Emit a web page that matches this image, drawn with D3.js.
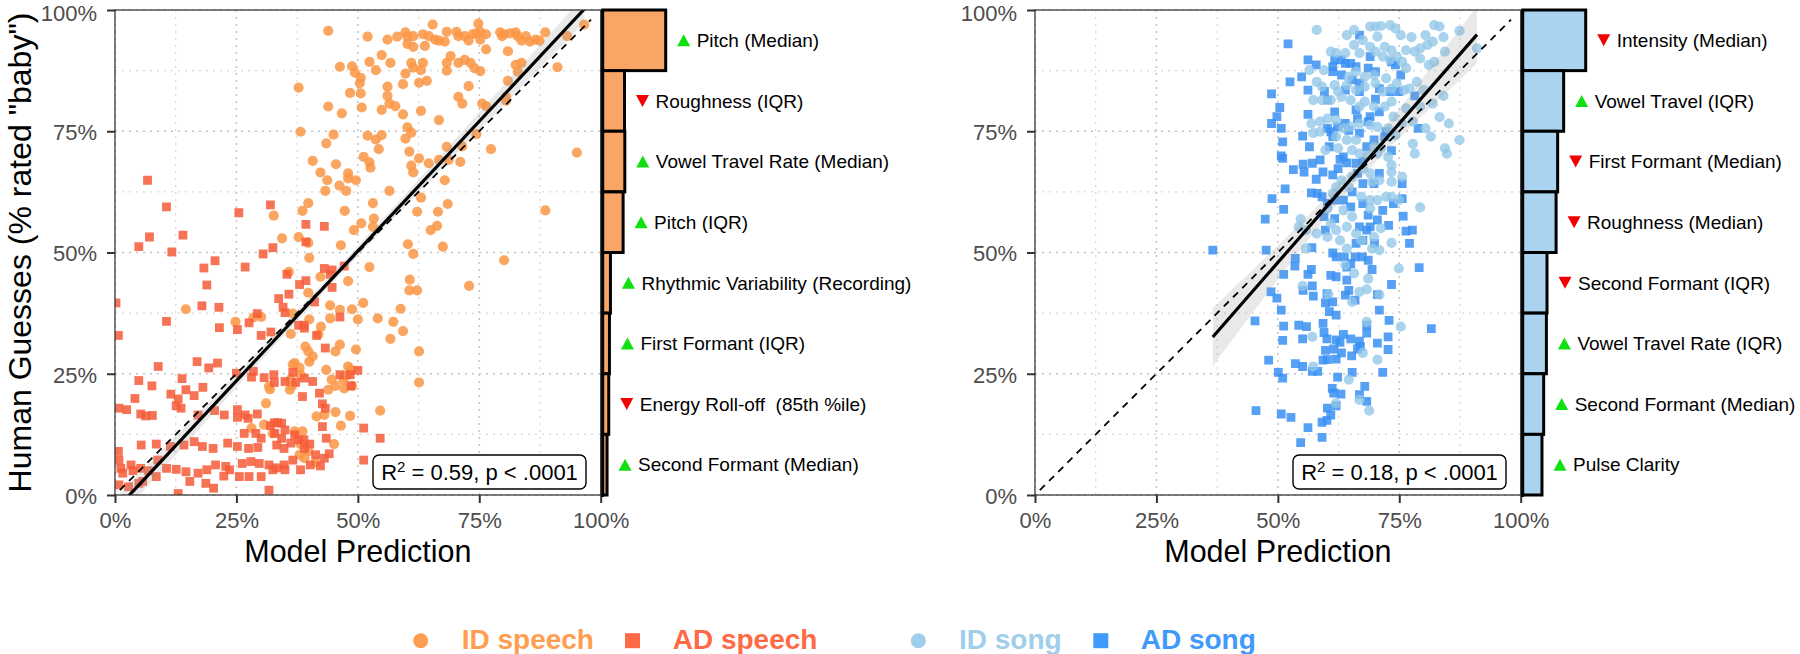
<!DOCTYPE html>
<html><head><meta charset="utf-8">
<script src="https://cdn.jsdelivr.net/npm/d3@7"></script>
<style>
body{margin:0;background:#fff}
text{font-family:"Liberation Sans",Arial,Helvetica,sans-serif}
</style>
</head><body>
<svg id="chart" width="1800" height="654"></svg>
<script>
// ---------------- DATA ----------------
const tickValues = [0, 25, 50, 75, 100];
const tickLabels = ["0%", "25%", "50%", "75%", "100%"];
const gridValues = [0, 12.5, 25, 37.5, 50, 62.5, 75, 87.5, 100];

// Left panel: speech  [model prediction %, human guesses %]
const idSpeech = [[43.9,95.7],[52.0,94.5],[56.1,93.9],[58.1,94.5],[59.8,95.4],[60.2,94.5],[61.4,94.6],[63.4,95.0],[64.6,94.6],[65.4,97.0],[65.9,93.9],[66.7,93.7],[67.9,93.5],[68.3,95.5],[70.3,95.5],[70.7,94.6],[72.0,94.6],[72.8,93.7],[73.6,95.0],[74.4,95.2],[74.8,97.2],[75.2,93.9],[76.4,95.0],[79.3,95.4],[80.1,95.0],[81.3,95.2],[82.5,95.4],[82.9,94.6],[83.7,93.7],[84.6,94.6],[85.4,93.5],[86.6,93.9],[87.4,93.7],[88.6,95.4],[93.1,94.6],[96.6,97.0],[61.4,92.4],[60.2,93.0],[63.8,92.6],[76.4,91.9],[80.9,91.5],[75.2,95.5],[79.7,94.6],
[54.9,90.7],[69.1,90.5],[52.4,89.3],[56.7,89.1],[61.0,89.1],[63.4,89.1],[68.3,89.1],[70.7,89.1],[72.0,89.7],[73.2,89.1],[74.0,88.0],[75.2,87.4],[61.4,88.1],[63.0,87.6],[46.3,88.3],[48.8,88.4],[49.4,87.1],[50.6,86.0],[53.7,87.6],[59.8,86.9],[68.3,87.5],[82.5,88.7],[83.7,89.1],[82.9,87.3],[91.1,88.2],[80.9,85.4],[62.6,85.0],[64.2,85.4],[59.3,84.7],[72.8,84.3],[56.1,84.2],[50.4,84.9],[37.8,84.0],[48.4,82.9],[50.6,82.8],[56.1,82.3],[56.5,80.7],[57.7,80.2],[54.9,79.4],[70.7,82.1],[71.5,80.7],[75.6,80.7],[76.4,80.2],[80.5,82.1],[80.5,81.3],[43.9,80.1],[46.7,78.7],[50.8,79.9],[59.3,78.5],[63.0,79.2],[66.7,77.3],
[38.2,74.9],[43.5,72.5],[45.0,74.3],[52.0,74.1],[53.7,73.3],[54.9,74.2],[54.3,71.3],[60.2,75.8],[61.0,74.7],[59.8,73.5],[74.4,74.4],[77.4,71.3],[95.1,70.6],[71.5,71.9],[68.3,71.8],[51.2,69.7],[52.4,68.6],[52.6,67.5],[60.6,70.8],[62.6,69.4],[64.6,68.4],[61.0,67.9],[61.4,66.5],[66.7,69.1],[68.7,69.1],[71.1,68.7],[40.7,68.9],[45.5,68.2],[42.3,66.5],[43.7,64.9],[43.3,62.7],[46.2,63.8],[48.0,66.3],[48.0,65.3],[49.6,64.9],[47.6,62.7],[56.5,62.7],[67.9,64.9],[63.0,61.3],[39.8,60.2],[38.6,58.6],[32.7,57.6],[53.1,60.2],[53.3,57.0],[53.1,55.3],[47.3,58.6],[50.7,56.0],[49.2,54.6],[62.2,58.4],[66.5,58.4],[68.5,60.0],[65.0,54.6],[66.3,55.5],[88.6,58.7],[80.1,48.4],[34.4,52.9],[37.8,53.2],[39.8,52.0],[46.5,51.5],[60.3,51.7],[61.4,49.7],[67.5,51.2],[48.0,44.1],[52.4,47.0],[60.7,44.4],[60.6,42.2],[62.2,42.2],[72.9,43.1],[42.3,45.0],[40.0,48.9],[39.8,41.7],[44.3,39.1],[46.3,38.2],[48.8,38.3],[51.1,39.6],[58.8,38.4],[14.6,38.3],[24.8,35.7],[28.5,36.6],[30.1,36.7],[35.8,46.0],[36.6,37.4],[40.0,36.2],[42.4,34.7],[50.0,36.2],[54.1,36.4],[57.3,35.7],[44.3,36.4],
[59.3,33.8],[56.7,32.2],[36.2,33.2],[46.3,31.0],[49.6,30.0],[45.4,29.6],[39.2,30.6],[39.8,29.6],[40.7,28.6],[40.0,27.5],[37.0,27.2],[36.6,26.9],[38.0,26.2],[41.9,33.1],[43.5,25.8],[44.6,23.8],[47.0,23.8],[45.4,22.5],[43.9,21.7],[47.6,24.6],[48.0,26.5],[48.6,25.8],[47.2,22.0],[48.8,22.5],[54.6,17.4],[62.6,29.6],[62.6,23.2],[41.5,16.2],[45.4,17.1],[43.1,16.5],[46.5,14.3],[48.4,16.3],[45.1,10.5],[38.2,10.5],[30.7,14.5],[32.5,12.7],[28.1,13.8],[36.0,21.7],[36.4,22.5],[36.2,23.9],[38.2,24.8],[31.7,22.4],[31.9,21.8],[37.0,13.1],[38.6,13.1],[41.3,6.7],[39.0,7.6],[38.0,8.3],[39.8,9.0],[31.1,18.9]];

const adSpeech = [[6.7,64.9],[10.6,59.4],[25.5,58.2],[32.0,59.8],[39.3,55.8],[43.1,55.4],[7.1,53.2],[14.0,53.6],[4.9,51.2],[11.7,50.1],[20.6,48.3],[18.3,46.8],[18.9,43.3],[26.8,47.0],[30.5,49.7],[32.5,51.0],[35.4,45.5],[39.3,52.2],[38.0,43.4],[39.3,44.2],[43.1,46.7],[44.7,46.4],[44.7,42.8],[47.2,47.2],[17.9,39.0],[21.4,38.7],[10.6,35.8],[0.2,39.6],[33.7,40.5],[35.8,41.4],[34.6,38.7],[35.0,37.6],[29.3,37.4],[27.6,35.5],[41.1,39.8],[38.9,35.0],[37.8,35.0],[46.3,36.7],[44.3,45.5],[21.5,34.5],
[25.2,34.1],[30.1,32.9],[32.1,33.6],[39.0,34.4],[41.5,32.9],[43.3,30.3],[16.9,27.5],[21.1,27.2],[19.3,26.2],[18.1,22.2],[13.8,24.0],[14.6,21.7],[11.5,20.8],[25.0,25.1],[28.1,24.3],[28.5,25.5],[32.7,24.8],[30.7,24.2],[32.8,23.2],[35.0,23.4],[36.6,25.3],[37.2,23.2],[39.0,24.1],[40.7,23.4],[38.6,20.3],[42.1,21.0],[42.7,18.8],[43.3,17.9],[46.3,24.8],[48.4,24.8],[50.0,25.7],[48.6,22.5],[8.9,26.5],[7.6,22.5],[4.9,23.6],[4.1,19.9],[2.4,17.6],[0.8,17.9],[5.3,16.7],[6.3,16.3],[7.7,16.4],[13.0,19.8],[12.6,18.4],[13.6,17.9],[16.3,20.5],[17.1,16.5],[20.5,17.4],[22.5,16.5],[25.2,17.6],[26.8,16.5],[27.4,15.8],[29.3,16.7],[32.8,14.9],[33.5,14.9],[34.3,14.8],[25.2,16.0],[26.6,12.7],[29.0,12.7],[30.1,11.7],[32.0,14.3],[32.9,12.7],[34.3,11.7],[35.0,13.4],[37.0,12.4],[37.8,11.4],[39.0,9.6],[40.1,10.5],[41.3,8.3],[42.7,14.1],[43.5,11.7],[51.2,13.8],[54.6,11.7],[43.1,7.6],[40.2,6.2],[42.3,6.0],[44.1,8.5],[5.4,10.3],[8.5,10.5],[11.4,10.0],[14.2,10.3],[16.3,11.0],[18.0,10.0],[20.2,9.6],[23.2,10.7],[25.2,10.0],[27.5,9.6],[29.4,9.8],[33.3,10.3],[34.8,9.6],[36.2,10.7],[38.9,11.4],[36.6,7.2],[34.8,6.2],[33.3,5.6],[31.7,6.2],[29.7,6.5],[28.0,6.9],[26.2,6.5],[23.6,5.2],[22.8,5.9],[20.7,6.2],[18.9,5.2],[17.1,4.5],[14.6,4.8],[12.6,5.3],[10.6,5.5],[8.8,7.2],[8.5,3.8],[6.9,5.0],[5.3,5.5],[3.7,5.0],[1.6,4.5],[0.8,7.2],[1.2,5.5],[3.3,6.2],[4.9,2.4],[5.7,2.8],[2.8,1.7],[0.8,2.1],[13.0,0.3],[15.4,2.8],[18.7,2.4],[20.3,1.4],[22.4,3.9],[25.6,3.8],[27.6,3.8],[30.1,3.8],[32.5,5.2],[35.0,5.2],[38.2,5.2],[31.7,1.0],[51.2,7.2],[0.7,32.9],[0.7,9.0]];

// Right panel: song
const idSong = [[58.0,95.9],[64.2,94.8],[65.7,95.9],[69.0,96.6],[70.1,96.6],[71.2,96.7],[73.1,96.9],[74.2,96.2],[75.3,94.8],[77.5,94.4],[80.4,94.8],[82.2,96.9],[83.3,96.6],[84.1,94.4],[87.4,95.7],[91.0,92.1],[81.9,93.5],[80.8,92.8],[79.3,92.1],[78.2,91.4],[76.4,91.7],[73.4,91.7],[72.0,92.4],[70.5,94.5],[69.0,92.4],[67.5,93.8],[65.7,92.8],[63.9,91.1],[60.9,91.4],[62.0,91.1],[66.8,91.1],[70.1,91.4],[71.6,90.4],[73.1,89.7],[74.5,90.4],[75.6,89.3],[79.3,90.0],[81.1,88.7],[82.2,89.3],[84.4,91.4],[76.4,88.0],[72.3,85.9],[69.8,86.6],[67.9,86.2],[66.1,87.3],[64.6,86.2],[59.5,87.6],[58.0,85.2],[56.5,87.6],[59.1,84.2],[61.7,84.5],[62.4,83.2],[64.2,84.5],[66.1,83.5],[67.9,84.2],[70.1,84.9],[71.6,83.2],[73.4,83.8],[74.5,84.9],[76.0,83.5],[77.1,83.8],[78.6,85.2],[80.0,83.5],[84.1,82.3],[81.9,80.7],[79.3,80.1],[76.4,79.7],[73.4,81.1],[72.0,80.1],[69.8,80.1],[67.9,81.1],[66.8,80.1],[65.0,81.4],[63.1,82.1],[60.9,81.4],[57.3,81.4],[59.1,81.4],[56.9,76.6],[58.7,77.0],[60.2,77.6],[62.0,77.3],[63.5,75.6],[65.0,75.9],[66.8,76.6],[69.0,76.3],[70.5,75.9],[72.7,75.6],[73.8,78.0],[75.6,76.6],[77.8,77.0],[80.4,75.6],[81.5,73.9],[83.3,77.9],[85.2,76.6],[87.4,73.2],[84.4,71.5],[84.8,70.4],[78.2,70.4],[77.8,72.4],[74.2,74.2],[71.2,71.5],[69.8,71.8],[68.6,70.1],[66.8,70.4],[65.3,71.1],[62.4,71.5],[59.8,71.1],[57.3,74.6],[58.7,74.9],[62.0,73.9],[64.2,73.2],[66.1,73.2],[70.5,70.4],[72.7,69.7],[73.4,68.0],[73.4,66.6],[75.6,65.6],[73.4,64.6],[70.9,64.9],[69.4,64.6],[69.0,66.3],[67.5,67.3],[65.3,65.6],[63.1,64.9],[61.3,62.2],[62.0,63.5],[64.6,63.5],[67.2,61.5],[69.0,60.8],[70.5,60.8],[72.3,61.5],[73.4,61.5],[74.9,60.8],[79.3,59.3],[69.0,59.1],[65.3,57.4],[63.5,58.7],[60.2,59.1],[60.9,56.0],[62.0,54.6],[64.2,55.3],[66.1,53.9],[67.2,52.5],[69.8,53.2],[71.2,55.0],[73.4,52.0],[54.7,56.9],[54.3,55.3],[55.8,54.6],[58.0,53.9],[60.2,53.2],[62.8,52.5],[69.4,50.8],[70.9,50.5],[55.8,50.8],[74.9,46.7],[64.2,50.8],[68.6,44.6],[68.3,42.4],[70.9,41.3],[66.8,41.9],[65.3,39.8],[60.4,41.4],[55.1,43.1],[75.3,34.7],[68.3,35.7],[63.9,47.4],[65.7,45.7],
[57.1,32.6],[57.3,26.5],[64.6,23.8],[66.8,19.6],[67.5,29.3],[70.5,27.9],[62.0,18.9],[68.8,17.4]];

const adSong = [[52.1,93.0],[56.2,89.7],[57.9,88.7],[52.5,85.2],[54.9,86.2],[48.7,82.7],[50.4,79.9],[49.8,78.0],[48.7,76.6],[50.7,75.6],[56.2,83.5],[56.2,78.5],[55.1,74.0],[51.0,72.8],[56.5,71.8],[50.7,69.9],[51.0,69.4],[53.2,67.1],[55.2,68.2],[55.4,66.6],[57.1,68.4],[57.9,65.1],[58.7,69.1],[59.3,66.6],[51.5,63.1],[48.8,61.1],[51.2,58.9],[56.9,62.3],[58.1,62.2],[59.1,61.5],[47.4,56.9],[36.6,50.5],[47.6,50.5],[57.0,51.0],[59.8,54.6],[61.7,57.0],[59.5,57.4],[53.6,48.8],[53.5,47.2],[51.2,45.5],[56.9,46.5],[56.2,45.5],[57.1,43.1],[57.3,41.0],[55.2,42.2],[48.6,41.9],[49.8,40.6],[50.7,38.1],[45.3,35.9],[51.2,34.8],[54.3,35.0],[55.9,34.7],[59.3,35.4],[60.1,41.5],[59.8,39.6],[61.3,39.8],[60.6,37.8],[62.0,37.1],[62.0,45.0],[60.9,45.3],[62.0,49.1],[61.3,49.9],[63.7,49.1],[64.2,47.0],[65.0,47.7],[64.2,44.3],[64.6,42.2],[63.9,41.2],[65.9,40.2],[65.9,49.1],[67.4,49.1],[69.4,46.5],[68.6,48.4],[68.3,35.0],[70.5,41.3],[70.9,38.1],[72.9,36.0],[73.4,43.4],[79.1,46.9],[81.6,34.3],[67.5,52.5],[68.3,54.6],[66.1,51.9],[69.9,51.9],[72.8,55.6],[75.8,57.5],[76.4,54.4],[77.7,54.6],[77.1,51.9],[73.8,60.1],[75.6,61.1],[71.6,58.7],[68.6,57.7],[70.5,56.7],[69.0,55.3],[66.8,55.3],[67.5,60.1],[65.0,59.4],[65.3,62.5],[63.5,60.8],[61.7,60.8],[60.2,60.1],[61.3,66.0],[62.4,67.3],[62.8,69.2],[63.5,69.7],[64.2,68.5],[66.1,68.4],[66.4,66.3],[67.5,64.2],[69.8,64.2],[70.9,66.3],[67.5,68.8],[68.3,71.8],[69.8,73.2],[72.0,73.9],[73.4,71.0],[75.6,64.2],[69.0,78.0],[68.6,77.0],[66.1,79.4],[66.4,77.6],[64.6,75.2],[63.9,76.6],[61.7,79.0],[60.9,74.9],[61.3,73.9],[60.6,71.8],[62.3,75.9],[60.2,75.6],[66.8,74.6],[72.3,74.9],[78.9,75.6],[74.9,83.2],[73.1,83.2],[70.1,81.6],[78.2,82.3],[70.9,83.8],[68.6,88.0],[66.8,84.9],[66.8,83.2],[65.3,85.6],[63.9,83.5],[63.1,86.6],[63.9,89.0],[65.0,89.0],[63.1,89.7],[61.7,89.7],[61.3,88.3],[61.3,87.3],[66.1,88.3],[66.8,94.8],[69.0,90.4],[73.4,89.3],[75.3,86.6],[74.2,88.7],[70.1,87.3],[60.2,81.4],[59.6,83.2],[70.9,79.0],
[55.1,32.2],[51.0,31.9],[59.5,33.5],[60.1,32.2],[62.0,32.0],[62.8,31.5],[63.5,33.1],[65.0,32.2],[66.8,31.7],[68.3,33.4],[70.5,31.3],[72.7,32.6],[67.0,30.6],[66.4,30.1],[59.8,29.8],[61.5,30.1],[63.1,29.3],[65.2,28.7],[72.7,30.0],[48.1,27.8],[53.6,27.1],[55.1,26.5],[59.3,27.8],[60.2,27.9],[62.0,28.0],[57.1,25.5],[58.2,25.5],[50.1,25.3],[51.0,24.1],[62.3,24.3],[65.3,25.3],[71.6,25.3],[67.9,22.4],[61.2,22.0],[61.5,21.0],[63.0,20.8],[66.8,20.7],[68.3,19.3],[45.5,17.4],[50.7,16.7],[52.7,16.0],[60.2,17.9],[62.0,18.4],[60.9,16.5],[59.1,15.0],[60.1,15.4],[56.2,13.9],[59.1,11.9],[54.7,10.8]];

// Regression fits (intercept %, slope), x-range of fit, CI band [centre x, min half-width, growth]
const leftFit = [-3.2, 1.07];
const leftFitRange = [0.2, 96.6];
const leftBand = [45, 1.0, 0.051];
const rightFit = [-9.36, 1.146];
const rightFitRange = [36.6, 91.0];
const rightBand = [64, 2.0, 0.205];
const identityRange = [1, 98];

const leftR2 = "0.59";
const rightR2 = "0.18";
const pLabel = "p < .0001";

// Feature importance bars
const leftFeatures = ["Pitch (Median)", "Roughness (IQR)", "Vowel Travel Rate (Median)", "Pitch (IQR)", "Rhythmic Variability (Recording)", "First Formant (IQR)", "Energy Roll-off  (85th %ile)", "Second Formant (Median)"];
const leftImportance = [1, 0.346, 0.351, 0.324, 0.123, 0.107, 0.096, 0.069];
const leftDirection = [1, -1, 1, 1, 1, 1, -1, 1];
const rightFeatures = ["Intensity (Median)", "Vowel Travel (IQR)", "First Formant (Median)", "Roughness (Median)", "Second Formant (IQR)", "Vowel Travel Rate (IQR)", "Second Formant (Median)", "Pulse Clarity"];
const rightImportance = [1, 0.65, 0.555, 0.53, 0.386, 0.376, 0.333, 0.306];
const rightDirection = [-1, 1, -1, -1, -1, 1, 1, 1];

const legendLabels = ["ID speech", "AD speech", "ID song", "AD song"];
const legendShapes = ["circle", "square", "circle", "square"];
const seriesColors = ["#FA9644", "#F65B38", "#92C6E8", "#3A90F3"];
const legendColors = ["#FF9E50", "#FF6A46", "#9FCEEC", "#3F9AFB"];
const barFills = ["#F9A566", "#A9D3EE"];

// ---------------- DRAW ----------------
const svg = d3.select("#chart");
const FONT_TICK = 22;
const plotTop = 10, plotBottom = 495, plotW = 485.7;

const panels = [
  {x0: 115, series: [[idSpeech, 0], [adSpeech, 1]], fit: leftFit, fitRange: leftFitRange, band: leftBand, r2: leftR2,
   features: leftFeatures, imp: leftImportance, dir: leftDirection, fill: barFills[0], id: "L"},
  {x0: 1035, series: [[adSong, 3], [idSong, 2]], fit: rightFit, fitRange: rightFitRange, band: rightBand, r2: rightR2,
   features: rightFeatures, imp: rightImportance, dir: rightDirection, fill: barFills[1], id: "R"}
];

const defs = svg.append("defs");

panels.forEach(p => {
  const x = d3.scaleLinear().domain([0, 100]).range([p.x0, p.x0 + plotW]);
  const y = d3.scaleLinear().domain([0, 100]).range([plotBottom, plotTop]);
  const g = svg.append("g");

  defs.append("clipPath").attr("id", "clip" + p.id)
    .append("rect").attr("x", p.x0).attr("y", plotTop).attr("width", plotW).attr("height", plotBottom - plotTop);

  // grid
  const grid = g.append("g");
  gridValues.forEach(v => {
    const major = tickValues.includes(v);
    const st = major ? {c: "#C4C4C4", w: 1.5} : {c: "#D8D8D8", w: 1.2};
    grid.append("line").attr("x1", x(v)).attr("x2", x(v)).attr("y1", plotTop).attr("y2", plotBottom)
      .attr("stroke", st.c).attr("stroke-width", st.w).attr("stroke-dasharray", "2,5");
    grid.append("line").attr("y1", y(v)).attr("y2", y(v)).attr("x1", p.x0).attr("x2", p.x0 + plotW)
      .attr("stroke", st.c).attr("stroke-width", st.w).attr("stroke-dasharray", "2,5");
  });

  const clipped = g.append("g").attr("clip-path", `url(#clip${p.id})`);

  // points
  const sym = {circle: d3.symbol().type(d3.symbolCircle).size(Math.PI * 5.1 * 5.1),
               square: d3.symbol().type(d3.symbolSquare).size(8.8 * 8.8)};
  p.series.forEach(([data, si]) => {
    clipped.append("g").selectAll("path").data(data).join("path")
      .attr("d", sym[legendShapes[si]])
      .attr("transform", d => `translate(${x(d[0])},${y(d[1])})`)
      .attr("fill", seriesColors[si])
      .attr("fill-opacity", si === 2 ? 0.78 : 0.85);
  });

  // CI band
  const [a, b] = p.fit;
  const [xc, h0, k] = p.band;
  const xs = d3.range(p.fitRange[0], p.fitRange[1] + 0.001, (p.fitRange[1] - p.fitRange[0]) / 60);
  const hw = v => Math.sqrt(h0 * h0 + Math.pow(k * (v - xc), 2));
  clipped.append("path").datum(xs)
    .attr("d", d3.area().x(v => x(v)).y0(v => y(a + b * v - hw(v))).y1(v => y(a + b * v + hw(v))))
    .attr("fill", "#9a9a9a").attr("fill-opacity", 0.22);

  // fit line
  clipped.append("path").datum(p.fitRange)
    .attr("d", d3.line().x(v => x(v)).y(v => y(a + b * v)))
    .attr("stroke", "#000").attr("stroke-width", 3.2).attr("fill", "none");

  // identity line
  clipped.append("path").datum(identityRange)
    .attr("d", d3.line().x(v => x(v)).y(v => y(v)))
    .attr("stroke", "#000").attr("stroke-width", 1.8).attr("stroke-dasharray", "7,6").attr("fill", "none");

  // border
  g.append("rect").attr("x", p.x0).attr("y", plotTop).attr("width", plotW).attr("height", plotBottom - plotTop)
    .attr("fill", "none").attr("stroke", "#3a3a3a").attr("stroke-width", 1.3);

  // axes
  const ax = g.append("g").attr("transform", `translate(0,${plotBottom})`)
    .call(d3.axisBottom(x).tickValues(tickValues).tickFormat((d, i) => tickLabels[i]).tickSize(8).tickPadding(9));
  const ay = g.append("g").attr("transform", `translate(${p.x0},0)`)
    .call(d3.axisLeft(y).tickValues(tickValues).tickFormat((d, i) => tickLabels[i]).tickSize(8).tickPadding(10));
  [ax, ay].forEach(a => {
    a.select(".domain").remove();
    a.selectAll(".tick line").attr("stroke", "#333").attr("stroke-width", 2);
    a.selectAll(".tick text").attr("fill", "#4D4D4D").attr("font-size", FONT_TICK)
      .attr("font-family", '"Liberation Sans",Arial,sans-serif');
  });
  ay.selectAll(".tick text").attr("dy", d => d === 100 ? "0.46em" : "0.38em");

  // axis titles
  g.append("text").attr("x", p.x0 + plotW / 2).attr("y", 562).attr("text-anchor", "middle")
    .attr("font-size", 30.5).attr("fill", "#000").text("Model Prediction");

  // R2 box
  const bw = 213, bh = 34, bx = p.x0 + plotW - 14.7 - bw, by = 455;
  g.append("rect").attr("x", bx).attr("y", by).attr("width", bw).attr("height", bh).attr("rx", 6)
    .attr("fill", "#fff").attr("stroke", "#000").attr("stroke-width", 1.4);
  const t = g.append("text").attr("x", bx + bw / 2).attr("y", by + bh / 2 + 8).attr("text-anchor", "middle")
    .attr("font-size", 22).attr("fill", "#000");
  t.append("tspan").text("R");
  t.append("tspan").attr("font-size", 15).attr("dy", -8).text("2");
  t.append("tspan").attr("dy", 8).text(` = ${p.r2}, ${pLabel}`);

  // importance bars
  const bx0 = p.x0 + plotW + 2;
  const yb = d3.scaleBand().domain(p.features).range([plotTop, plotBottom]).padding(0);
  const xb = d3.scaleLinear().domain([0, 1]).range([0, 63]);
  const bars = svg.append("g");
  bars.append("line").attr("x1", bx0).attr("x2", bx0).attr("y1", plotTop).attr("y2", plotBottom + 2)
    .attr("stroke", "#000").attr("stroke-width", 2.5);
  bars.selectAll("rect").data(p.features).join("rect")
    .attr("x", bx0).attr("y", d => yb(d)).attr("height", yb.bandwidth())
    .attr("width", (d, i) => xb(p.imp[i]))
    .attr("fill", p.fill).attr("stroke", "#000").attr("stroke-width", 3);
  p.features.forEach((f, i) => {
    const cy = yb(f) + yb.bandwidth() / 2;
    const tx = bx0 + xb(p.imp[i]) + 11.5;
    const up = p.dir[i] > 0;
    const tri = up
      ? `M${tx},${cy + 6} L${tx + 13},${cy + 6} L${tx + 6.5},${cy - 6} Z`
      : `M${tx},${cy - 6} L${tx + 13},${cy - 6} L${tx + 6.5},${cy + 6} Z`;
    bars.append("path").attr("d", tri).attr("fill", up ? "#10E010" : "#F00000");
    bars.append("text").attr("x", tx + 19.5).attr("y", cy + 6.8).attr("font-size", 19)
      .attr("fill", "#000").attr("xml:space", "preserve").style("white-space", "pre").text(f);
  });
});

// y axis title (left only)
svg.append("text").attr("transform", "translate(31,252.5) rotate(-90)").attr("text-anchor", "middle")
  .attr("font-size", 32).attr("fill", "#000").text('Human Guesses (% rated "baby")');

// legend
const legX = [420.7, 632.5, 918.3, 1100.8];
const legTextX = [461.7, 672.7, 959, 1140.7];
const lg = svg.append("g");
legendLabels.forEach((lab, i) => {
  const sh = legendShapes[i] === "circle"
    ? d3.symbol().type(d3.symbolCircle).size(Math.PI * 7.5 * 7.5)
    : d3.symbol().type(d3.symbolSquare).size(15 * 15);
  lg.append("path").attr("d", sh).attr("transform", `translate(${legX[i]},640.7)`).attr("fill", legendColors[i]);
  lg.append("text").attr("x", legTextX[i]).attr("y", 648.5).attr("font-size", 28).attr("font-weight", "bold")
    .attr("fill", legendColors[i]).text(lab);
});
</script>
</body></html>
